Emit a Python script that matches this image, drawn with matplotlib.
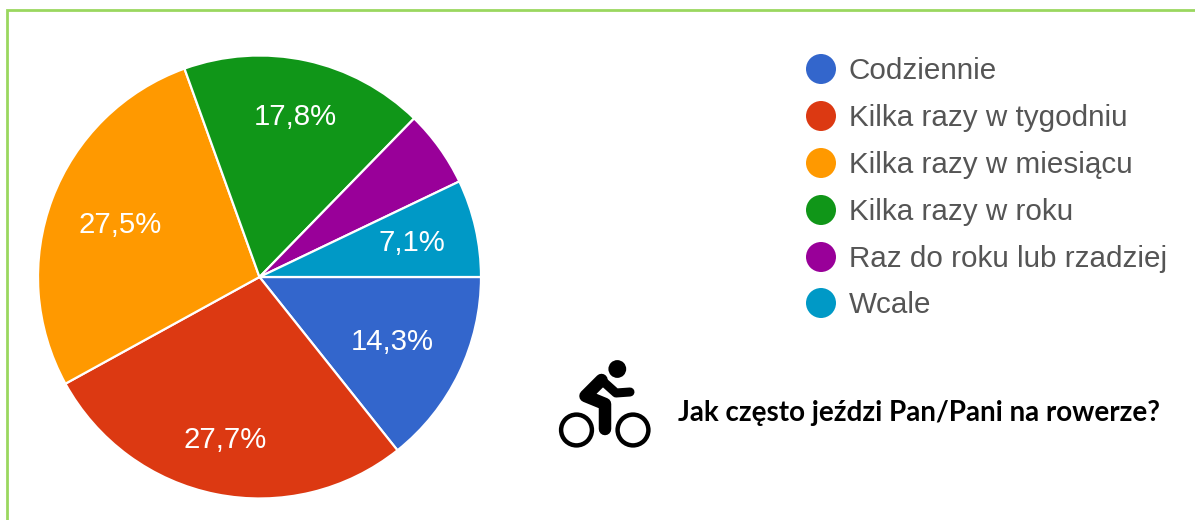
import matplotlib
matplotlib.use("Agg")
import matplotlib.pyplot as plt
from matplotlib.patches import Circle

categories = ["Codziennie", "Kilka razy w tygodniu", "Kilka razy w miesiącu",
              "Kilka razy w roku", "Raz do roku lub rzadziej", "Wcale"]
values = [14.3, 27.7, 27.5, 17.8, 5.6, 7.1]
colors = ["#3366CC", "#DC3912", "#FF9900", "#109618", "#990099", "#0099C6"]
label_pos = [(392, 342), (225, 440), (120, 225), (295, 117), None, (412, 243)]
legend_y = [69, 116, 163, 210, 257, 303]
title = "Jak często jeździ Pan/Pani na rowerze?"

W, H = 1195, 520
fig = plt.figure(figsize=(W / 100, H / 100), dpi=100, facecolor="white")
ax = fig.add_axes([0, 0, 1, 1])

ax.pie(values, colors=colors, startangle=0, counterclock=False,
       center=(259.5, H - 277), radius=221.5,
       wedgeprops=dict(edgecolor="white", linewidth=1.6))
ax.set_xlim(0, W)
ax.set_ylim(0, H)
ax.set_aspect("equal")
ax.axis("off")

def Y(y):
    return H - y

# percent labels
for v, p in zip(values, label_pos):
    if p is not None:
        ax.text(p[0], Y(p[1]), f"{v:.1f}%".replace(".", ","), color="white",
                ha="center", va="center", fontsize=21.2, family="Liberation Sans")

# legend
for name, c, y in zip(categories, colors, legend_y):
    ax.add_patch(Circle((821, Y(y)), 15, facecolor=c, edgecolor="none"))
    ax.text(849, Y(y + 2), name, color="#555555", ha="left", va="center",
            fontsize=21.3, family="Liberation Sans")

# frame
green = "#9AD75F"
ax.plot([7, 7, W], [0, Y(10), Y(10)], color=green, lw=2.0, solid_joinstyle="miter",
        solid_capstyle="butt")

# title
ax.text(678, Y(413), title, color="black", ha="left", va="center", fontsize=19.95,
        fontweight="bold", family="Lato")

# cyclist icon
ax.add_patch(Circle((617.3, Y(369)), 8.9, facecolor="black", edgecolor="none"))
for cx in (576.5, 633):
    ax.add_patch(Circle((cx, Y(430)), 15.4, facecolor="none", edgecolor="black", lw=3.2))
ax.plot([601.5, 585.5, 605, 605], [Y(380), Y(396), Y(404), Y(429)], color="black", lw=9,
        solid_capstyle="round", solid_joinstyle="round")
ax.plot([601.5, 616, 630], [Y(380), Y(393), Y(392)], color="black", lw=6.5,
        solid_capstyle="round", solid_joinstyle="round")

fig.savefig("out.png", dpi=100, facecolor="white")
